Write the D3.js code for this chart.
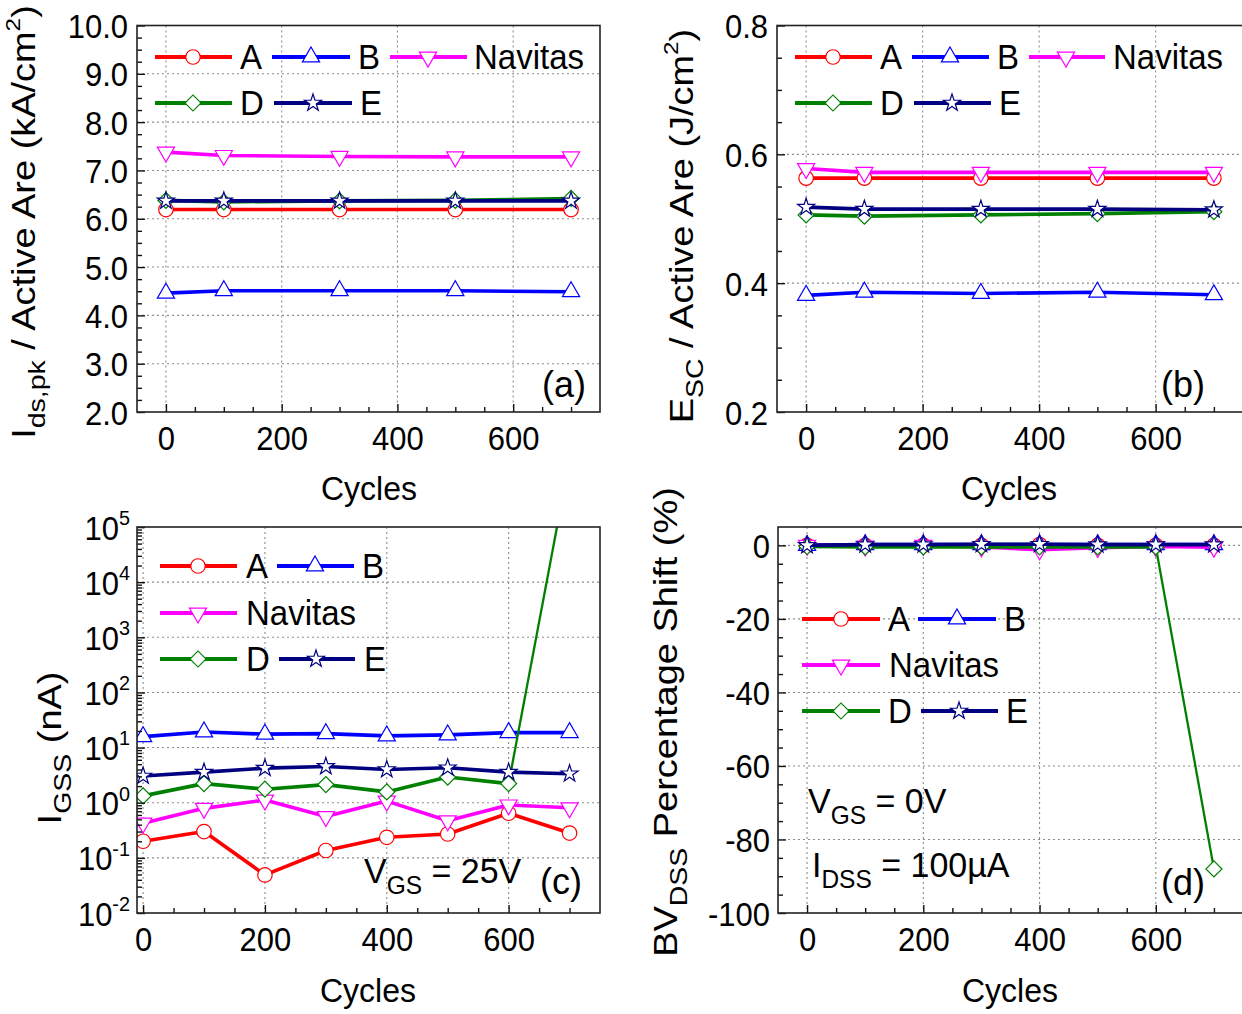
<!DOCTYPE html>
<html lang="en">
<head>
  <meta charset="UTF-8">
  <title>Short-circuit cycling: A, B, Navitas, D, E</title>
  <script src="https://cdn.jsdelivr.net/npm/d3@7/dist/d3.min.js"></script>
  <style>
    body { margin: 0; background: #fff; }
    svg text { font-family: "Liberation Sans", Arial, sans-serif; fill: #000; }
    .grid line { stroke: #8c8c8c; stroke-width: 1.1; stroke-dasharray: 2,3; }
    .frame { fill: none; stroke: #222; stroke-width: 1.6; }
  </style>
</head>
<body>
<svg id="fig" width="1242" height="1014"></svg>
<script>
  // cycle counts
  var cyclesTop = [0, 100, 300, 500, 700];
  var cyclesBottom = [0, 100, 200, 300, 400, 500, 600, 700];

  var names = ["A", "B", "Navitas", "D", "E"];
  var colors = ["#ff0000", "#0000ff", "#ff00ff", "#008000", "#000080"];
  var shapes = ["circle", "triangle", "triangleDown", "diamond", "star"];

  // (a) Ids,pk / active area (kA/cm2)
  var idsA = [6.19, 6.19, 6.19, 6.19, 6.19];
  var idsB = [4.46, 4.51, 4.51, 4.51, 4.49];
  var idsNavitas = [7.38, 7.31, 7.29, 7.28, 7.28];
  var idsD = [6.38, 6.35, 6.37, 6.38, 6.42];
  var idsE = [6.37, 6.37, 6.37, 6.37, 6.37];

  // (b) Esc / active area (J/cm2)
  var escA = [0.563, 0.563, 0.563, 0.563, 0.563];
  var escB = [0.381, 0.386, 0.384, 0.386, 0.382];
  var escNavitas = [0.578, 0.572, 0.572, 0.572, 0.572];
  var escD = [0.506, 0.504, 0.506, 0.508, 0.511];
  var escE = [0.518, 0.515, 0.515, 0.515, 0.514];

  // (c) IGSS (nA), VGS = 25V
  var igssA = [0.20, 0.30, 0.049, 0.136, 0.236, 0.271, 0.644, 0.282];
  var igssB = [15.8, 19.2, 17.5, 17.9, 16.3, 17.0, 18.7, 18.7];
  var igssNavitas = [0.426, 0.79, 1.12, 0.56, 1.07, 0.47, 0.91, 0.81];
  var igssD = [1.33, 2.22, 1.76, 2.13, 1.57, 2.92, 2.22, 1.6e6];
  var igssE = [3.05, 3.59, 4.24, 4.54, 4.0, 4.3, 3.59, 3.35];

  // (d) BVDSS percentage shift (%)
  var bvA = [0, 0, 0, 0, 0.2, 0, 0, 0];
  var bvB = [0, 0.2, 0.2, 0.2, 0.2, 0.2, 0.2, 0.2];
  var bvNavitas = [0, -0.2, 0, -0.4, -1.2, -0.6, -0.3, -0.5];
  var bvD = [-0.3, -0.4, -0.4, -0.4, -0.4, -0.4, -0.4, -88];
  var bvE = [0, 0.2, 0.2, 0.3, 0.3, 0.2, 0.2, 0.2];

  // tick values
  var xMajor = [0, 200, 400, 600];
  var xMinor = [50, 100, 150, 250, 300, 350, 450, 500, 550, 650, 700];
  var yMajorA = [2, 3, 4, 5, 6, 7, 8, 9, 10];
  var yMajorB = [0.2, 0.4, 0.6, 0.8];
  var yMajorC = [1e-2, 1e-1, 1, 10, 100, 1e3, 1e4, 1e5];
  var yMajorD = [-100, -80, -60, -40, -20, 0];

  var yMinorA = d3.range(2.25, 10, 0.25).filter(function(v) { return Math.abs(v - Math.round(v)) > 0.01; });
  var yMinorB = d3.range(0.25, 0.8, 0.05).filter(function(v) { return Math.abs(v * 5 - Math.round(v * 5)) > 0.01; });
  var yMinorC = [];
  for (var n = -2; n < 5; n++) for (var k = 2; k < 10; k++) yMinorC.push(k * Math.pow(10, n));
  var yMinorD = d3.range(-95, 5, 5).filter(function(v) { return v % 20 !== 0; });

  var SY = 1.05;      // slight vertical stretch of the original text
  var SROT = 1.15;
  var TICK = 31;

  var svg = d3.select("#fig");

  function setParts(el, parts, size, small) {
    var t = d3.select(el);
    small = small || 0.72;
    t.text(null).attr("font-size", size);
    var off = 0;
    parts.forEach(function(p) {
      var kind = p[1] || "n";
      var shift = kind === "sub" ? size * 0.3 : kind === "sup" ? -size * 0.45 : 0;
      t.append("tspan")
        .attr("font-size", kind === "n" ? size : kind === "sup" ? size * 0.64 : size * small)
        .attr("dy", shift - off)
        .text(p[0]);
      off = shift;
    });
  }

  function addText(parent, x, y, parts, size, anchor, rotated) {
    var t = parent.append("text")
      .attr("text-anchor", anchor || "start")
      .attr("transform", "translate(" + x + "," + y + ")" +
        (rotated ? " rotate(-90) scale(" + SROT + ",1)" : " scale(1," + SY + ")"));
    setParts(t.node(), parts, size, rotated ? 0.75 : 0.72);
    return t;
  }

  function marker(g, shape, color, cx, cy) {
    var sym = d3.symbolCircle, size = 165, rot = 0;
    if (shape === "triangle") { sym = d3.symbolTriangle; size = 128; }
    if (shape === "triangleDown") { sym = d3.symbolTriangle; size = 128; rot = 180; }
    if (shape === "diamond") { sym = d3.symbolSquare; size = 128; rot = 45; }
    if (shape === "star") { sym = d3.symbolStar; size = 90; }
    g.append("path")
      .attr("d", d3.symbol(sym, size)())
      .attr("transform", "translate(" + cx + "," + cy + ") rotate(" + rot + ")")
      .attr("fill", "#fff")
      .attr("stroke", color)
      .attr("stroke-width", 1.2);
  }

  function cleanAxis(g) {
    g.select(".domain").remove();
    g.attr("font-size", null).attr("font-family", null).attr("color", "#111");
    g.selectAll(".tick line").attr("stroke-width", 1.4);
  }

  var panels = [
    {
      box: { l: 137, r: 600, t: 25.5, b: 412 }, cycles: cyclesTop,
      xd: [-50, 750], yd: [2, 10], log: false,
      series: [idsA, idsB, idsNavitas, idsD, idsE],
      yMajor: yMajorA, yMinor: yMinorA, yFmt: function(d) { return [[d3.format(".1f")(d)]]; }, yPad: 9,
      legend: [[0, 155, 232, 193, 240, 57], [1, 272, 350, 311, 358, 57], [2, 390, 467, 428, 474, 57],
               [3, 155, 232, 193, 240, 103], [4, 274, 352, 313, 360, 103]],
      ytitle: [["I"], ["ds,pk", "sub"], [" / Active Are (kA/cm"], ["2", "sup"], [")"]], ytPos: [35, 222],
      xtPos: [369, 500], tail: -1,
      notes: [[542, 397, [["(a)"]], 36]]
    },
    {
      box: { l: 777, r: 1243, t: 25.5, b: 412 }, cycles: cyclesTop,
      xd: [-50, 750], yd: [0.2, 0.8], log: false,
      series: [escA, escB, escNavitas, escD, escE],
      yMajor: yMajorB, yMinor: yMinorB, yFmt: function(d) { return [[d3.format(".1f")(d)]]; }, yPad: 9,
      legend: [[0, 795, 872, 833, 880, 57], [1, 912, 989, 950, 997, 57], [2, 1029, 1105, 1066, 1113, 57],
               [3, 795, 872, 833, 880, 103], [4, 914, 991, 952, 999, 103]],
      ytitle: [["E"], ["SC", "sub"], [" / Active Are (J/cm"], ["2", "sup"], [")"]], ytPos: [693, 226],
      xtPos: [1009, 500], tail: -1,
      notes: [[1161, 397, [["(b)"]], 36]]
    },
    {
      box: { l: 137, r: 600, t: 527, b: 913 }, cycles: cyclesBottom,
      xd: [-10, 750], yd: [1e-2, 1e5], log: true,
      series: [igssA, igssB, igssNavitas, igssD, igssE],
      yMajor: yMajorC, yMinor: yMinorC,
      yFmt: function(d) { return [["10"], [String(Math.round(Math.log10(d))), "sup"]]; }, yPad: 7,
      legend: [[0, 160, 237, 198, 246, 566], [1, 277, 354, 315, 362, 566], [2, 160, 237, 198, 246, 613],
               [3, 160, 237, 198, 246, 659], [4, 279, 355, 316, 364, 659]],
      ytitle: [["I"], ["GSS", "sub"], [" (nA)"]], ytPos: [61, 748],
      xtPos: [368, 1002], tail: 3,
      notes: [[364, 883, [["V"], ["GS", "sub"], [" = 25V"]], 34], [540, 894, [["(c)"]], 36]]
    },
    {
      box: { l: 778, r: 1243, t: 527, b: 913 }, cycles: cyclesBottom,
      xd: [-50, 750], yd: [-100, 5], log: false,
      series: [bvA, bvB, bvNavitas, bvD, bvE],
      yMajor: yMajorD, yMinor: yMinorD, yFmt: function(d) { return [[String(d)]]; }, yPad: 8,
      legend: [[0, 802, 880, 841, 888, 619], [1, 918, 996, 957, 1004, 619], [2, 802, 880, 841, 889, 665],
               [3, 802, 880, 841, 888, 711], [4, 921, 998, 959, 1006, 711]],
      ytitle: [["BV"], ["DSS", "sub"], [" Percentage Shift (%)"]], ytPos: [677, 722],
      xtPos: [1010, 1002], tail: 3,
      notes: [[808, 813, [["V"], ["GS", "sub"], [" = 0V"]], 34],
              [812, 877, [["I"], ["DSS", "sub"], [" = 100\u00b5A"]], 34],
              [1161, 895, [["(d)"]], 36]]
    }
  ];

  panels.forEach(function(p, pi) {
    var g = svg.append("g");
    var box = p.box;
    var x = d3.scaleLinear().domain(p.xd).range([box.l, box.r]);
    var y = (p.log ? d3.scaleLog() : d3.scaleLinear()).domain(p.yd).range([box.b, box.t]);

    // dotted grid at major ticks
    var grid = g.append("g").attr("class", "grid");
    grid.selectAll("line.v").data(xMajor).enter().append("line").attr("class", "v")
      .attr("x1", x).attr("x2", x).attr("y1", box.t).attr("y2", box.b);
    grid.selectAll("line.h")
      .data(p.yMajor.filter(function(v) { return y(v) > box.t + 2 && y(v) < box.b - 2; }))
      .enter().append("line").attr("class", "h")
      .attr("x1", box.l).attr("x2", box.r).attr("y1", y).attr("y2", y);

    // data
    var clipId = "clip" + pi;
    g.append("clipPath").attr("id", clipId).append("rect")
      .attr("x", box.l).attr("y", box.t).attr("width", box.r - box.l).attr("height", box.b - box.t);
    var plot = g.append("g").attr("clip-path", "url(#" + clipId + ")");
    var line = d3.line().x(function(d) { return x(d[0]); }).y(function(d) { return y(d[1]); });

    p.series.forEach(function(vals, si) {
      var pts = p.cycles.map(function(c, i) { return [c, vals[i]]; });
      var main = si === p.tail ? pts.slice(0, pts.length - 1) : pts;
      plot.append("path").datum(main).attr("d", line)
        .attr("fill", "none").attr("stroke", colors[si]).attr("stroke-width", 3.6)
        .attr("stroke-linejoin", "round");
      if (si === p.tail) {
        plot.append("path").datum(pts.slice(pts.length - 2)).attr("d", line)
          .attr("fill", "none").attr("stroke", colors[si]).attr("stroke-width", 2.3);
      }
      pts.forEach(function(d) { marker(plot, shapes[si], colors[si], x(d[0]), y(d[1])); });
    });

    // axes: inward ticks
    g.append("g").attr("transform", "translate(" + box.l + ",0)")
      .call(d3.axisLeft(y).tickValues(p.yMinor).tickSize(-5).tickFormat("")).call(cleanAxis);
    g.append("g").attr("transform", "translate(0," + box.b + ")")
      .call(d3.axisBottom(x).tickValues(xMinor).tickSize(-5).tickFormat("")).call(cleanAxis);

    var ya = g.append("g").attr("transform", "translate(" + box.l + ",0)")
      .call(d3.axisLeft(y).tickValues(p.yMajor).tickSize(-8)).call(cleanAxis);
    ya.selectAll(".tick text").each(function(d) {
      d3.select(this).attr("x", null).attr("y", null).attr("dy", null)
        .attr("transform", "translate(" + (-p.yPad) + ",12) scale(1," + SY + ")");
      setParts(this, p.yFmt(d), TICK);
    });

    var xa = g.append("g").attr("transform", "translate(0," + box.b + ")")
      .call(d3.axisBottom(x).tickValues(xMajor).tickSize(-8)).call(cleanAxis);
    xa.selectAll(".tick text").each(function(d) {
      d3.select(this).attr("x", null).attr("y", null).attr("dy", null)
        .attr("transform", "translate(0,38) scale(1," + SY + ")");
      setParts(this, [[String(d)]], TICK);
    });

    g.append("rect").attr("class", "frame")
      .attr("x", box.l).attr("y", box.t).attr("width", box.r - box.l).attr("height", box.b - box.t);

    // legend
    p.legend.forEach(function(it) {
      var si = it[0];
      g.append("line").attr("x1", it[1]).attr("x2", it[2]).attr("y1", it[5]).attr("y2", it[5])
        .attr("stroke", colors[si]).attr("stroke-width", 4);
      marker(g, shapes[si], colors[si], it[3], it[5]);
      addText(g, it[4], it[5] + 12, [[names[si]]], 33, "start");
    });

    // titles and notes
    addText(g, p.ytPos[0], p.ytPos[1], p.ytitle, 33, "middle", true);
    addText(g, p.xtPos[0], p.xtPos[1], [["Cycles"]], 32, "middle");
    p.notes.forEach(function(nt) { addText(g, nt[0], nt[1], nt[2], nt[3], "start"); });
  });
</script>
</body>
</html>
